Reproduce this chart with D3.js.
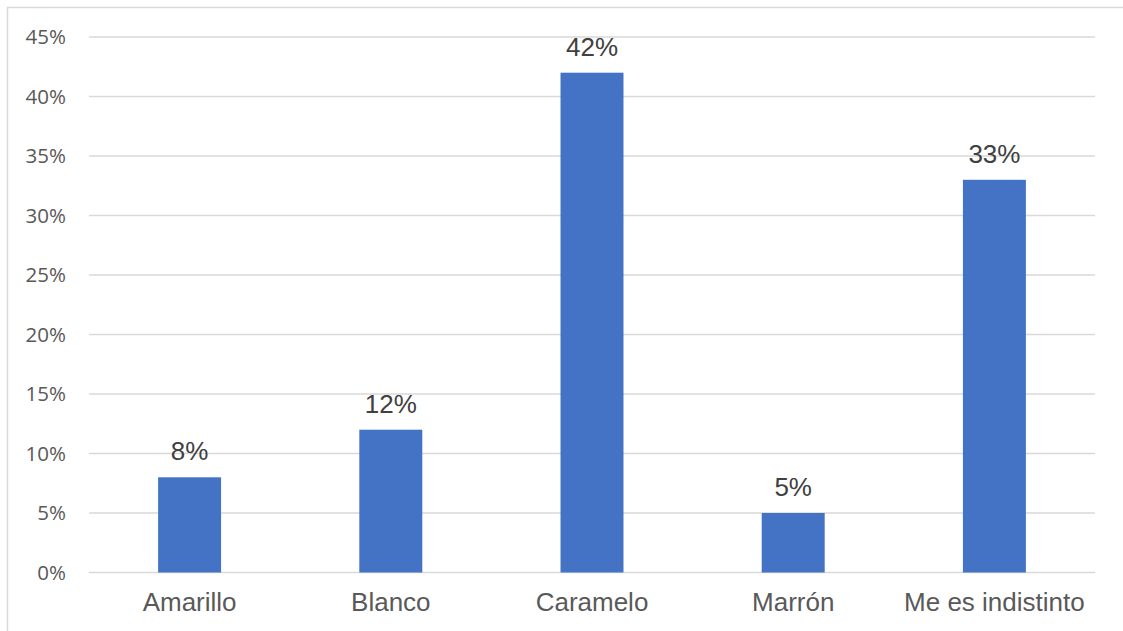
<!DOCTYPE html>
<html>
<head>
<meta charset="utf-8">
<script src="https://cdn.jsdelivr.net/npm/d3@7"></script>
<style>
  body { margin: 0; background: #fff; }
  svg { display: block; }
</style>
</head>
<body>
<div id="chart"></div>
<script>
// data
var categories = ["Amarillo", "Blanco", "Caramelo", "Marrón", "Me es indistinto"];
var values = [8, 12, 42, 5, 33];
var tickValues = [0, 5, 10, 15, 20, 25, 30, 35, 40, 45];

var width = 1123, height = 631;
var margin = {left: 89, right: 28, top: 37, bottom: 58.5};

var svg = d3.select("#chart").append("svg")
    .attr("width", width).attr("height", height);

// chart border (runs off the right/bottom edge)
svg.append("rect")
    .attr("x", 7.5).attr("y", 7.5)
    .attr("width", width + 20).attr("height", height + 20)
    .attr("fill", "none").attr("stroke", "#d9d9d9").attr("stroke-width", 1.5);

var x = d3.scaleBand().domain(categories)
    .range([margin.left, width - margin.right])
    .paddingInner(0.687).paddingOuter(0.3435);

var y = d3.scaleLinear().domain([0, 45])
    .range([height - margin.bottom, margin.top]);

/* gridlines */
svg.append("g").selectAll("line").data(tickValues).enter().append("line")
    .attr("x1", margin.left).attr("x2", width - margin.right)
    .attr("y1", function(d){ return y(d); })
    .attr("y2", function(d){ return y(d); })
    .attr("stroke", "#d9d9d9").attr("stroke-width", 1.5);

/* y axis labels */
var yAxis = d3.axisLeft(y).tickValues(tickValues)
    .tickFormat(function(d){ return d + "%"; }).tickSize(0).tickPadding(23);
var gy = svg.append("g").attr("transform", "translate(" + margin.left + ",0)").call(yAxis);
gy.select(".domain").remove();
gy.selectAll("text")
    .style("font-family", "'Open Sans', sans-serif").style("font-size", "20.5px")
    .attr("fill", "#595959");

/* bars */
svg.append("g").selectAll("rect").data(values).enter().append("rect")
    .attr("x", function(d, i){ return x(categories[i]); })
    .attr("width", x.bandwidth())
    .attr("y", function(d){ return y(d); })
    .attr("height", function(d){ return y(0) - y(d); })
    .attr("fill", "#4472c4");

/* data labels */
svg.append("g").selectAll("text").data(values).enter().append("text")
    .attr("x", function(d, i){ return x(categories[i]) + x.bandwidth() / 2; })
    .attr("y", function(d){ return y(d) - 17; })
    .attr("text-anchor", "middle")
    .style("font-family", "'Liberation Sans', Arial, sans-serif").style("font-size", "26px")
    .attr("fill", "#404040")
    .text(function(d){ return d + "%"; });

/* category labels */
var xAxis = d3.axisBottom(x).tickSize(0).tickPadding(20);
var gx = svg.append("g").attr("transform", "translate(0," + y(0) + ")").call(xAxis);
gx.select(".domain").remove();
gx.selectAll("text")
    .style("font-family", "'Liberation Sans', Arial, sans-serif").style("font-size", "26px")
    .attr("fill", "#595959");
</script>
</body>
</html>
